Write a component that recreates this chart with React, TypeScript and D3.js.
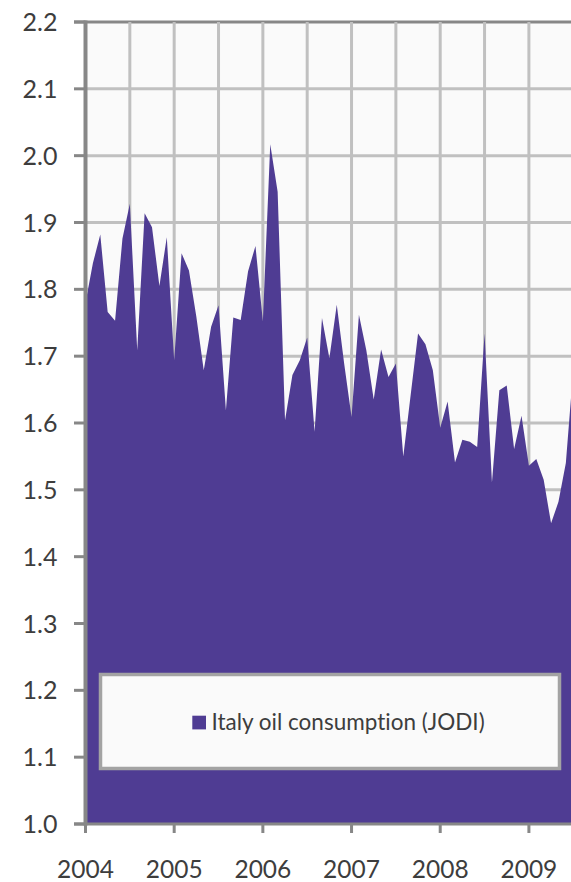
import React from "react";
import * as d3 from "d3";

// Monthly values from Jan 2004 (index 0)
const values: number[] = [
  1.78, 1.839, 1.882, 1.766, 1.753, 1.876, 1.928, 1.709, 1.914, 1.893, 1.805, 1.878,
  1.694, 1.854, 1.828, 1.759, 1.679, 1.744, 1.776, 1.619, 1.758, 1.754, 1.827, 1.865,
  1.752, 2.017, 1.946, 1.604, 1.672, 1.694, 1.728, 1.587, 1.757, 1.697, 1.777, 1.689,
  1.609, 1.762, 1.709, 1.635, 1.71, 1.669, 1.689, 1.55, 1.642, 1.734, 1.718, 1.679,
  1.593, 1.632, 1.541, 1.575, 1.572, 1.564, 1.734, 1.511, 1.649, 1.656, 1.561, 1.611,
  1.536, 1.546, 1.515, 1.45, 1.482, 1.54, 1.68,
];
const yearLabels: string[] = ["2004", "2005", "2006", "2007", "2008", "2009"];
const yTicks: number[] = [1.0, 1.1, 1.2, 1.3, 1.4, 1.5, 1.6, 1.7, 1.8, 1.9, 2.0, 2.1, 2.2];
const seriesName = "Italy oil consumption (JODI)";

const W = 571;
const H = 882;
const FONT = "Lato, 'Open Sans', sans-serif";
const TEXT = "#3d3d3d";

export default function App() {
  const x = d3.scaleLinear().domain([0, 66]).range([85.5, 85.5 + 7.39 * 66]);
  const y = d3.scaleLinear().domain([1.0, 2.2]).range([824, 22]);
  const area = d3
    .area<number>()
    .x((_, i) => x(i))
    .y0(y(1.0))
    .y1((d) => y(d));
  const gridMonths = d3.range(6, 66, 6);
  const plotRight = W;

  return (
    <svg
      width={W}
      height={H}
      style={{ position: "absolute", left: 0, top: 0, background: "#ffffff", fontVariantLigatures: "none" }}
    >
      <defs>
        <clipPath id="plot">
          <rect x={x(0)} y={0} width={plotRight - x(0)} height={H} />
        </clipPath>
      </defs>
      <rect x={x(0)} y={y(2.2)} width={plotRight - x(0)} height={y(1.0) - y(2.2)} fill="#fafafa" />
      {/* horizontal gridlines */}
      {yTicks.slice(1, -1).map((t) => (
        <line key={"h" + t} x1={x(0)} x2={plotRight} y1={y(t)} y2={y(t)} stroke="#c0c0c0" strokeWidth={3} />
      ))}
      <line x1={74} x2={plotRight} y1={y(2.2)} y2={y(2.2)} stroke="#878787" strokeWidth={3} />
      {/* vertical gridlines */}
      {gridMonths.map((m) => (
        <line key={"v" + m} x1={x(m)} x2={x(m)} y1={y(2.2)} y2={y(1.0)} stroke="#c0c0c0" strokeWidth={3} />
      ))}
      <path d={area(values) || ""} fill="#4f3c93" clipPath="url(#plot)" />
      {/* y axis */}
      <line x1={x(0)} x2={x(0)} y1={y(2.2) - 1.5} y2={y(1.0) + 1.5} stroke="#878787" strokeWidth={4} />
      {yTicks.map((t) => (
        <g key={"yt" + t}>
          <line x1={74} x2={x(0)} y1={y(t)} y2={y(t)} stroke="#878787" strokeWidth={3} />
          <text
            x={57.5}
            y={y(t)}
            dy="0.36em"
            textAnchor="end"
            fontFamily={FONT}
            fontSize={25}
            fill={TEXT}
          >
            {t.toFixed(1)}
          </text>
        </g>
      ))}
      {/* x axis */}
      <line x1={74} x2={plotRight} y1={y(1.0)} y2={y(1.0)} stroke="#878787" strokeWidth={3} />
      {yearLabels.map((lab, k) => (
        <g key={"xt" + lab}>
          <line x1={x(k * 12)} x2={x(k * 12)} y1={y(1.0)} y2={y(1.0) + 9} stroke="#878787" strokeWidth={3} />
          <text
            x={x(k * 12)}
            y={877.5}
            textAnchor="middle"
            fontFamily={FONT}
            fontSize={24.5}
            fill={TEXT}
          >
            {lab}
          </text>
        </g>
      ))}
      {/* legend */}
      <rect x={100.5} y={674.5} width={459} height={94} fill="#fafafa" stroke="#a3a3a3" strokeWidth={3.5} />
      <rect x={192.3} y={715.7} width={13.7} height={13.7} fill="#4f3c93" />
      <text x={211.5} y={730} fontFamily={FONT} fontSize={22.5} fill={TEXT}>
        {seriesName}
      </text>
    </svg>
  );
}
